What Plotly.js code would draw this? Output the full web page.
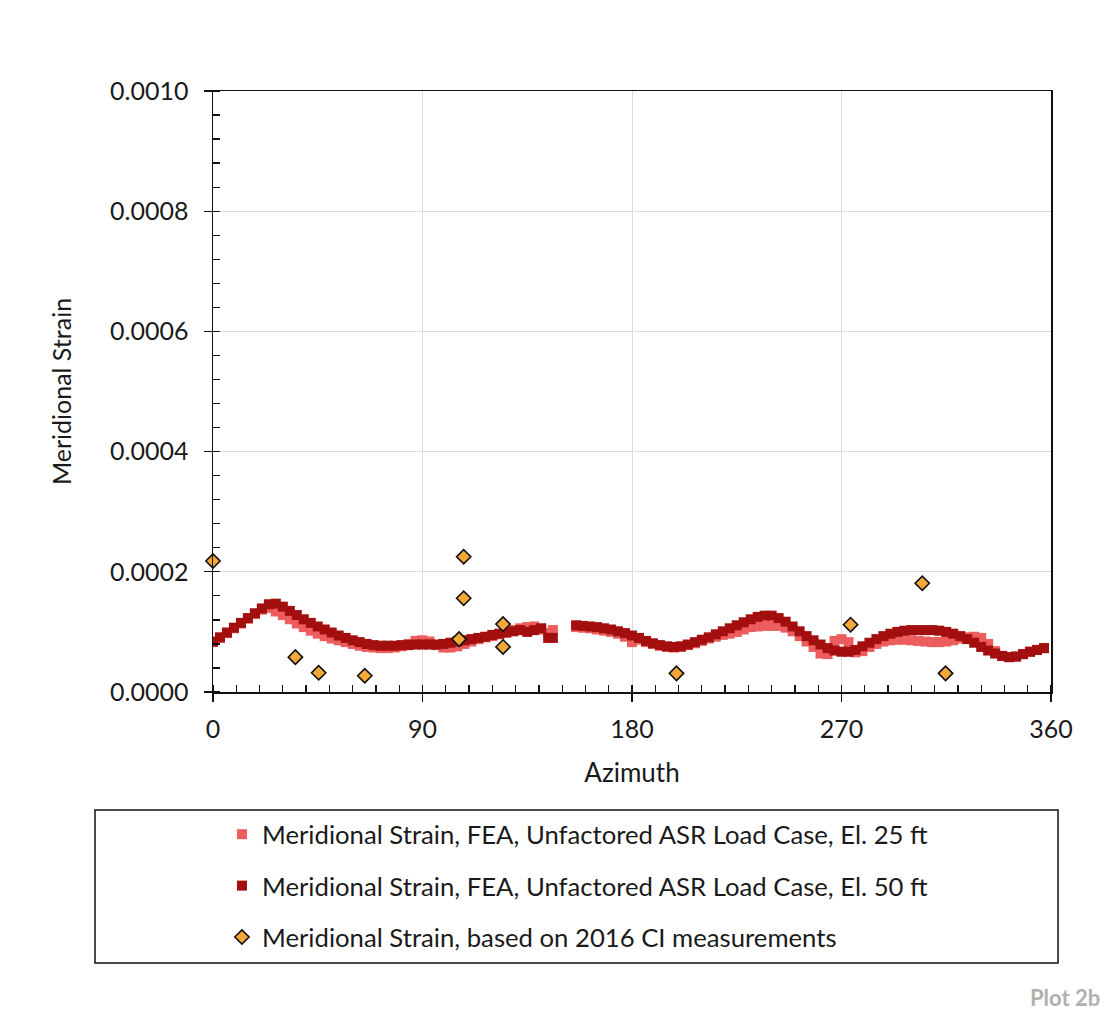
<!DOCTYPE html>
<html>
<head>
<meta charset="utf-8">
<script src="https://cdn.plot.ly/plotly-3.0.1.min.js"></script>
<style>
  html, body { margin: 0; padding: 0; background: #ffffff; }
  #chart { width: 1118px; height: 1013px; }
</style>
</head>
<body>
<div id="chart"></div>
<script>
// Azimuth stations (degrees) of the FEA output, with no results between 146 and 156
const azimuthFea = [
  0, 3, 6, 9, 12, 15, 18, 21, 24, 27,
  30, 33, 36, 39, 42, 45, 48, 51, 54, 57,
  60, 63, 66, 69, 72, 75, 78, 81, 84, 87,
  90, 93, 96, 99, 102, 105, 108, 111, 114, 117,
  120, 123, 126, 129, 132, 135, 138, 141, 144, 146,
  156, 159, 162, 165, 168, 171, 174, 177, 180, 183,
  186, 189, 192, 195, 198, 201, 204, 207, 210, 213,
  216, 219, 222, 225, 228, 231, 234, 237, 240, 243,
  246, 249, 252, 255, 258, 261, 264, 267, 270, 273,
  276, 279, 282, 285, 288, 291, 294, 297, 300, 303,
  306, 309, 312, 315, 318, 321, 324, 327, 330, 333,
  336, 339, 342, 345, 348, 351, 354, 357
];

// Meridional strain, FEA, unfactored ASR load case, El. 25 ft (units of 1e-5)
const strainEl25 = [
  8.3, 9.0, 9.8, 10.6, 11.4, 12.2, 13.0, 13.7, 14.0, 13.4,
  12.8, 12.1, 11.4, 10.8, 10.2, 9.7, 9.3, 8.9, 8.6, 8.3,
  8.0, 7.7, 7.5, 7.4, 7.3, 7.3, 7.4, 7.6, 8.0, 8.5,
  8.6, 8.4, 7.8, 7.4, 7.4, 7.6, 8.0, 8.4, 8.8, 9.1,
  9.3, 9.6, 9.9, 10.3, 10.6, 10.8, 10.9, 10.4, 9.8, 10.3,
  10.8, 10.7, 10.6, 10.4, 10.2, 10.0, 9.7, 9.2, 8.3, 8.7,
  8.3, 8.0, 7.7, 7.5, 7.4, 7.5, 7.8, 8.1, 8.5, 8.9,
  9.2, 9.5, 9.7, 10.0, 10.4, 10.8, 10.9, 11.0, 11.0, 11.0,
  10.7, 10.1, 9.3, 8.4, 7.5, 6.4, 6.3, 8.5, 8.8, 8.3,
  6.6, 6.8, 7.5, 8.0, 8.4, 8.6, 8.7, 8.7, 8.6, 8.5,
  8.4, 8.3, 8.3, 8.4, 8.6, 8.9, 9.1, 9.2, 9.0, 8.0,
  6.8, 6.0, 5.8, 5.9, 6.3, 6.7, 7.0, 7.3
];

// Meridional strain, FEA, unfactored ASR load case, El. 50 ft (units of 1e-5)
const strainEl50 = [
  8.4, 9.1, 9.9, 10.7, 11.5, 12.3, 13.1, 13.9, 14.6, 14.7,
  14.2, 13.5, 12.8, 12.1, 11.5, 10.9, 10.4, 9.9, 9.4, 9.0,
  8.6, 8.3, 8.0, 7.8, 7.7, 7.7, 7.7, 7.8, 7.8, 7.9,
  7.9, 7.9, 7.9, 8.0, 8.2, 8.4, 8.6, 8.8, 9.0, 9.2,
  9.5, 9.7, 9.9, 10.1, 10.3, 10.0, 10.3, 10.6, 9.0, 9.0,
  11.1, 11.0, 10.9, 10.8, 10.6, 10.4, 10.1, 9.8, 9.4, 9.0,
  8.5, 8.1, 7.8, 7.6, 7.5, 7.6, 7.9, 8.3, 8.7, 9.1,
  9.6, 10.1, 10.6, 11.1, 11.6, 12.1, 12.5, 12.7, 12.7, 12.3,
  11.7, 10.9, 10.1, 9.3, 8.6, 7.9, 7.3, 6.9, 6.7, 6.7,
  7.0, 7.6, 8.2, 8.8, 9.3, 9.7, 10.0, 10.2, 10.3, 10.3,
  10.3, 10.3, 10.2, 10.0, 9.7, 9.3, 8.8, 8.2, 7.5, 6.9,
  6.4, 6.0, 5.8, 5.9, 6.3, 6.7, 7.0, 7.3
];

// Meridional strain derived from the 2016 CI measurements
const azimuthCi = [0, 35.4, 45.4, 65.2, 105.7, 107.7, 107.7, 124.6, 124.6, 199.1, 273.9, 304.7, 314.7];
const strainCi = [0.000218, 0.000058, 0.000032, 0.000027, 0.000088, 0.000156, 0.000225,
                  0.000113, 0.000075, 0.000031, 0.000112, 0.000181, 0.000031];

const xTickVals = [0, 90, 180, 270, 360];
const legendNames = [
  'Meridional Strain, FEA, Unfactored ASR Load Case, El. 25 ft',
  'Meridional Strain, FEA, Unfactored ASR Load Case, El. 50 ft',
  'Meridional Strain, based on 2016 CI measurements'
];

const E5 = 1e-5;
const FONT = 'Lato, "Open Sans", sans-serif';
const INK = '#1a1a1a';

const traces = [
  {
    x: azimuthFea, y: strainEl25.map(v => v * E5),
    type: 'scatter', mode: 'markers', name: legendNames[0], legendgroup: 'a',
    marker: { symbol: 'square', size: 10, color: '#ec5d5d' }
  },
  {
    x: azimuthFea, y: strainEl50.map(v => v * E5),
    type: 'scatter', mode: 'markers', name: legendNames[1], legendgroup: 'b',
    marker: { symbol: 'square', size: 10, color: '#a30f0f' }
  },
  {
    x: azimuthCi, y: strainCi,
    type: 'scatter', mode: 'markers', name: legendNames[2], legendgroup: 'c',
    cliponaxis: false,
    marker: { symbol: 'diamond', size: 11, color: '#f5a83a', line: { color: '#111111', width: 1.6 } }
  }
];

const axisCommon = {
  showline: true, linecolor: '#111111', linewidth: 1.5, mirror: true,
  gridcolor: '#d9d9de', gridwidth: 1, zeroline: false,
  tickcolor: '#111111', tickwidth: 1.3,
  tickfont: { family: FONT, size: 25, color: INK }
};

const layout = {
  width: 1118, height: 1013,
  paper_bgcolor: '#ffffff', plot_bgcolor: '#ffffff',
  margin: { l: 213, r: 67, t: 91, b: 321 },
  showlegend: true,
  xaxis: Object.assign({}, axisCommon, {
    range: [0, 360], tickvals: xTickVals, ticks: 'outside', ticklen: 8, ticklabelstandoff: 6,
    minor: { dtick: 10, ticks: 'inside', ticklen: 7, tickcolor: '#111111', tickwidth: 1.3, showgrid: false },
    title: { text: 'Azimuth', font: { family: FONT, size: 26, color: INK }, standoff: 22 }
  }),
  yaxis: Object.assign({}, axisCommon, {
    range: [0, 0.001], dtick: 0.0002, tickformat: '.4f', ticks: 'outside', ticklen: 8, ticklabelstandoff: 10,
    minor: { dtick: 0.00004, ticks: 'inside', ticklen: 7, tickcolor: '#111111', tickwidth: 1.3, showgrid: false },
    title: { text: 'Meridional Strain', font: { family: FONT, size: 25, color: INK }, standoff: 31 }
  }),
  // inner halves of the major ticks, so they cross the axis lines
  xaxis2: {
    overlaying: 'x', anchor: 'y', side: 'bottom', range: [0, 360], tickvals: xTickVals,
    ticks: 'inside', ticklen: 9, tickcolor: '#111111', tickwidth: 1.3,
    showticklabels: false, showgrid: false, showline: false, zeroline: false
  },
  yaxis2: {
    overlaying: 'y', anchor: 'x', side: 'left', range: [0, 0.001], dtick: 0.0002,
    ticks: 'inside', ticklen: 9, tickcolor: '#111111', tickwidth: 1.3,
    showticklabels: false, showgrid: false, showline: false, zeroline: false
  },
  legend: {
    x: 0.0107, xanchor: 'left', y: -0.198, yanchor: 'top',
    bgcolor: 'rgba(0,0,0,0)', borderwidth: 0,
    font: { family: FONT, size: 25.7, color: INK },
    tracegroupgap: 15, itemclick: false
  },
  shapes: [
    {
      type: 'rect', xref: 'paper', yref: 'paper',
      x0: -0.1408, x1: 1.0084, y0: -0.4509, y1: -0.1963,
      line: { color: '#111111', width: 1.5 }, fillcolor: 'rgba(0,0,0,0)'
    }
  ],
  annotations: [
    {
      text: 'Plot 2b', xref: 'paper', yref: 'paper', x: 1.0609, y: -0.5075,
      xanchor: 'right', yanchor: 'middle', showarrow: false,
      font: { family: FONT, size: 22, color: '#b0b0b0', weight: 'bold' }
    }
  ]
};

Plotly.newPlot('chart', traces, layout, { displayModeBar: false, staticPlot: true });
</script>
</body>
</html>
